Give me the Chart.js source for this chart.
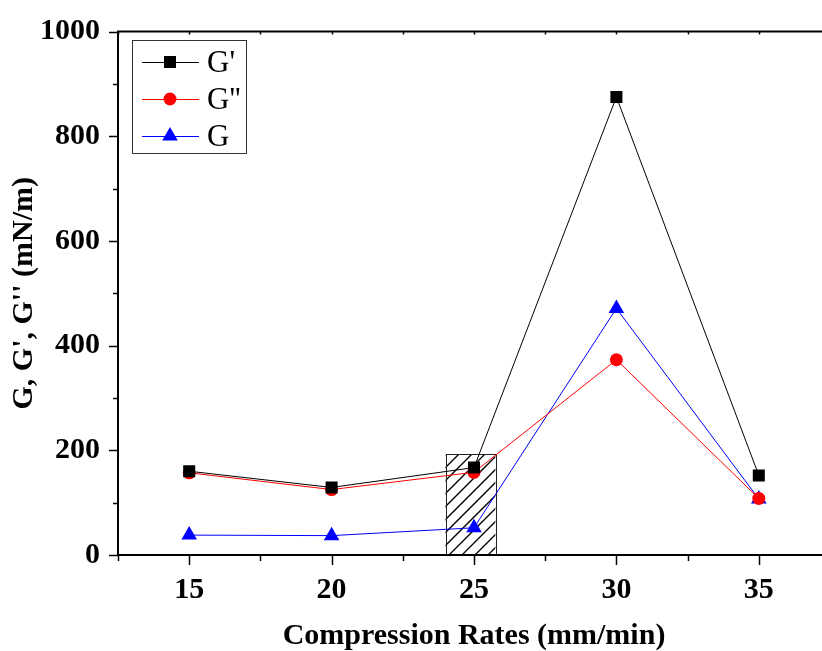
<!DOCTYPE html>
<html>
<head>
<meta charset="UTF-8">
<title>G, G', G'' vs compression rate</title>
<script src="https://cdn.jsdelivr.net/npm/chart.js"></script>
<style>
  *{ margin:0; padding:0; }
  body{ width:822px; height:651px; overflow:hidden; background:#fff; }
  #wrap{ width:850px; height:651px; }
</style>
</head>
<body>
<div id="wrap"><canvas id="c" width="850" height="651"></canvas></div>
<script>
// data
var rates = [15, 20, 25, 30, 35];
var gPrime = [160, 129, 167, 875, 152];
var gDoublePrime = [157, 125, 158, 373, 108];
var gModulus = [38, 37, 52, 471, 107];
var yTicks = [0, 200, 400, 600, 800, 1000];
// hatched box around the 25 mm/min point
var boxX = [24, 25.75];
var boxTop = 192;

var serif = "'Liberation Serif', 'Times New Roman', serif";

function pts(ys){
  return rates.map(function(x, i){ return {x: x, y: ys[i]}; });
}

// frame + tick marks (Origin style)
var framePlugin = {
  id: 'frame',
  afterDraw: function(chart){
    var ctx = chart.ctx, a = chart.chartArea;
    var xs = chart.scales.x, ys = chart.scales.y;
    ctx.save();
    ctx.strokeStyle = '#000';
    ctx.lineWidth = 2;
    ctx.beginPath();
    ctx.moveTo(a.left, a.top); ctx.lineTo(a.left, a.bottom);
    ctx.moveTo(a.left - 1, a.bottom); ctx.lineTo(a.right, a.bottom);
    ctx.moveTo(a.left - 1, a.top); ctx.lineTo(a.right, a.top);
    ctx.stroke();
    ctx.lineWidth = 1.5;
    ctx.beginPath();
    for (var v = 12.5; v <= 37.5; v += 2.5) {
      var px = Math.round(xs.getPixelForValue(v)) + 0.5;
      var major = (v % 5 === 0);
      ctx.moveTo(px, a.bottom); ctx.lineTo(px, a.bottom + (major ? 10 : 6));
      ctx.moveTo(px, a.top); ctx.lineTo(px, a.top + 3);
    }
    for (var w = 0; w <= 1000; w += 100) {
      var py = Math.round(ys.getPixelForValue(w)) + 0.5;
      var maj = (w % 200 === 0);
      ctx.moveTo(a.left, py); ctx.lineTo(a.left - (maj ? 9 : 5), py);
    }
    ctx.stroke();
    ctx.restore();
  }
};

// hatched rectangle
var hatchPlugin = {
  id: 'hatch',
  beforeDatasetsDraw: function(chart){
    var ctx = chart.ctx;
    var xs = chart.scales.x, ys = chart.scales.y;
    var x0 = xs.getPixelForValue(boxX[0]), x1 = xs.getPixelForValue(boxX[1]);
    var y0 = ys.getPixelForValue(boxTop), y1 = ys.getPixelForValue(0);
    var h = y1 - y0;
    ctx.save();
    ctx.beginPath();
    ctx.rect(x0, y0, x1 - x0, h);
    ctx.clip();
    ctx.strokeStyle = '#000';
    ctx.lineWidth = 1.3;
    ctx.beginPath();
    for (var k = x0 - h; k < x1; k += 13) {
      ctx.moveTo(k, y1); ctx.lineTo(k + h, y0);
    }
    ctx.stroke();
    ctx.restore();
    ctx.save();
    ctx.strokeStyle = '#222';
    ctx.lineWidth = 1;
    ctx.strokeRect(Math.round(x0) + 0.5, Math.round(y0) + 0.5, Math.round(x1 - x0), Math.round(h));
    ctx.restore();
  }
};

// legend box with line + marker samples
var legendPlugin = {
  id: 'boxLegend',
  afterDraw: function(chart){
    var ctx = chart.ctx;
    ctx.save();
    ctx.strokeStyle = '#333';
    ctx.lineWidth = 1;
    ctx.strokeRect(132.5, 40.5, 114, 113);
    ctx.font = '31px ' + serif;
    ctx.textBaseline = 'middle';
    chart.data.datasets.forEach(function(ds, i){
      var y = 62 + i * 37;
      ctx.strokeStyle = ds.borderColor;
      ctx.lineWidth = 1;
      ctx.beginPath(); ctx.moveTo(142, y + 0.5); ctx.lineTo(199, y + 0.5); ctx.stroke();
      ctx.fillStyle = ds.pointBackgroundColor;
      Chart.helpers.drawPoint(ctx, {pointStyle: ds.pointStyle, radius: ds.pointRadius, borderWidth: 0}, 170, y);
      ctx.fillStyle = '#000';
      ctx.fillText(ds.label, 207, y + 2);
    });
    ctx.restore();
  }
};

new Chart(document.getElementById('c'), {
  type: 'line',
  data: {
    datasets: [
      { label: "G'", data: pts(gPrime), borderColor: '#000', borderWidth: 1,
        pointStyle: 'rect', pointRadius: 8.5, pointBackgroundColor: '#000', pointBorderColor: '#000', pointBorderWidth: 0 },
      { label: "G''", data: pts(gDoublePrime), borderColor: '#ff0000', borderWidth: 1,
        pointStyle: 'circle', pointRadius: 6.5, pointBackgroundColor: '#ff0000', pointBorderColor: '#ff0000', pointBorderWidth: 0 },
      { label: 'G', data: pts(gModulus), borderColor: '#0000ff', borderWidth: 1,
        pointStyle: 'triangle', pointRadius: 9, pointBackgroundColor: '#0000ff', pointBorderColor: '#0000ff', pointBorderWidth: 0 }
    ]
  },
  options: {
    responsive: false,
    animation: false,
    layout: { padding: { left: 0, right: 20, top: 27, bottom: 0 } },
    plugins: { legend: { display: false }, tooltip: { enabled: false } },
    elements: { line: { tension: 0 } },
    scales: {
      x: {
        type: 'linear', min: 12.5, max: 37.5,
        grid: { display: false, drawTicks: false },
        border: { display: false },
        afterBuildTicks: function(s){ s.ticks = rates.map(function(v){ return {value: v}; }); },
        afterFit: function(s){ s.height = 96; },
        ticks: { color: '#000', padding: 17, maxRotation: 0, font: { family: serif, size: 30, weight: 'bold' },
                 callback: function(v){ return String(v); } },
        title: { display: true, text: 'Compression Rates (mm/min)', color: '#000', padding: 0,
                 font: { family: serif, size: 30, weight: 'bold', lineHeight: 1.0 } }
      },
      y: {
        min: 0, max: 1000,
        grid: { display: false, drawTicks: false },
        border: { display: false },
        afterBuildTicks: function(s){ s.ticks = yTicks.map(function(v){ return {value: v}; }); },
        afterFit: function(s){ s.width = 118; },
        ticks: { color: '#000', padding: 18, font: { family: serif, size: 30, weight: 'bold', lineHeight: 0.9 },
                 callback: function(v){ return String(v); } },
        title: { display: true, text: "G, G', G'' (mN/m)", color: '#000', padding: { top: 6, bottom: 0 },
                 font: { family: serif, size: 30, weight: 'bold' } }
      }
    }
  },
  plugins: [hatchPlugin, framePlugin, legendPlugin]
});
</script>
</body>
</html>
